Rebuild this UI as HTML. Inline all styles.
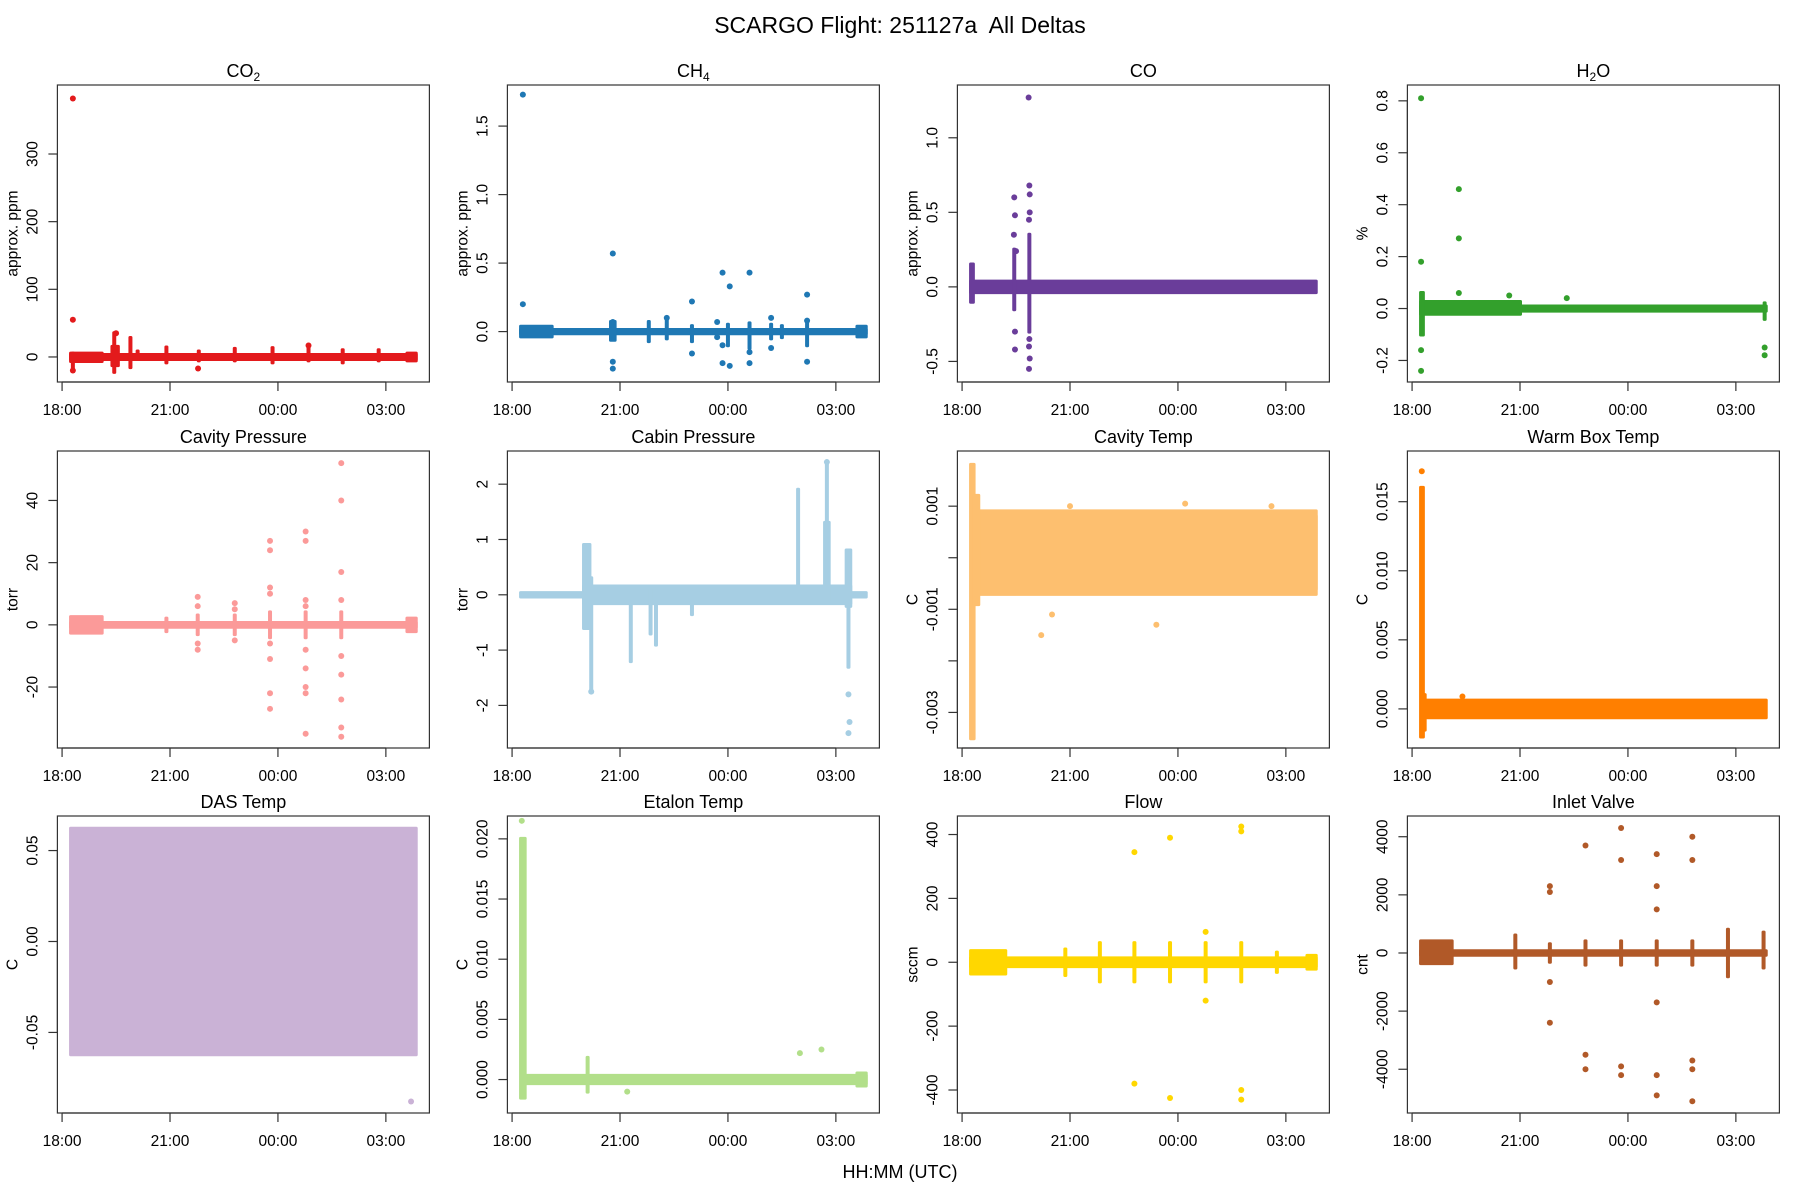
<!DOCTYPE html>
<html><head><meta charset="utf-8"><title>SCARGO Flight 251127a All Deltas</title>
<style>html,body{margin:0;padding:0;background:#fff}svg{display:block}text{font-family:"Liberation Sans",Arial,sans-serif;fill:#000}</style>
</head><body>
<svg id="chart" xmlns="http://www.w3.org/2000/svg" width="1800" height="1200" viewBox="0 0 1800 1200">
<rect width="1800" height="1200" fill="#fff"/>
<text x="900" y="33" font-size="23" text-anchor="middle">SCARGO Flight: 251127a&#160; All Deltas</text>
<text x="900" y="1178" font-size="18" text-anchor="middle">HH:MM (UTC)</text>
<g id="panels"></g>
</svg>
<script>
// time axis (hours; values >24 are after midnight)
const timeTicks = [18, 21, 24, 27];
const timeTickLabels = ["18:00", "21:00", "00:00", "03:00"];
const timeDomain = [17.87, 28.21];

// each band: [t0, t1, lo, hi]; each point: [t, value]
const co2Bands = [[18.25,27.83,-3,3],[18.25,19.1,-6,5],[18.3,18.3,-20,5],[19.4,19.55,-12,15],[19.45,19.45,-22,35],[19.9,19.9,-15,28],[20.1,20.1,-3,8],[20.9,20.9,-8,14],[21.8,21.8,-5,8],[22.8,22.8,-5,12],[23.85,23.85,-8,13],[24.85,24.85,-5,18],[25.8,25.8,-8,10],[26.8,26.8,-5,10],[27.6,27.83,-5,5]];
const co2Pts = [[18.3,382],[18.3,55],[18.3,-20],[21.78,-17],[24.85,17],[19.5,35]];

const ch4Bands = [[18.25,27.83,-0.012,0.012],[18.25,19.1,-0.035,0.035],[20.75,20.85,-0.06,0.07],[21.8,21.8,-0.07,0.07],[22.3,22.3,-0.05,0.1],[23.0,23.0,-0.07,0.04],[24.0,24.0,-0.1,0.05],[24.6,24.6,-0.12,0.06],[25.2,25.2,-0.05,0.05],[25.5,25.5,-0.04,0.04],[26.2,26.2,-0.1,0.08],[27.6,27.83,-0.035,0.035]];
const ch4Pts = [[18.3,1.73],[18.3,0.2],[20.8,0.57],[20.8,-0.22],[20.8,-0.27],[20.8,0.07],[22.3,0.1],[23.0,0.22],[23.0,-0.16],[23.85,0.43],[23.85,-0.1],[23.85,-0.23],[24.05,0.33],[24.05,-0.25],[24.6,0.43],[24.6,-0.15],[24.6,-0.23],[25.2,0.1],[25.2,-0.12],[26.2,0.27],[26.2,-0.22],[26.2,0.08],[23.7,0.07],[23.7,-0.04]];

const coBands = [[18.25,27.83,-0.035,0.035],[18.25,18.3,-0.1,0.15],[19.45,19.45,-0.15,0.25],[19.87,19.87,-0.3,0.35]];
const coPts = [[19.85,1.27],[19.45,0.6],[19.47,0.48],[19.5,0.24],[19.47,-0.3],[19.47,-0.42],[19.44,0.35],[19.87,0.68],[19.88,0.62],[19.88,0.5],[19.86,0.45],[19.86,-0.4],[19.86,-0.55],[19.88,-0.48],[19.87,-0.35]];

const h2oBands = [[18.25,27.83,-0.008,0.008],[18.25,21.0,-0.02,0.025],[18.25,18.3,-0.1,0.06],[27.8,27.8,-0.04,0.02]];
const h2oPts = [[18.25,0.81],[18.25,0.18],[18.25,-0.16],[18.25,-0.24],[19.3,0.46],[19.3,0.27],[19.3,0.06],[27.8,-0.15],[27.8,-0.18],[20.7,0.05],[22.3,0.04]];

const cavPBands = [[18.25,27.83,-0.6,0.6],[18.25,19.1,-2.5,2.5],[20.9,20.9,-2,2],[21.77,21.77,-3,3],[22.8,22.8,-3,3],[23.78,23.78,-4,4],[24.77,24.77,-4,4],[25.76,25.76,-4,4],[27.6,27.83,-2,2]];
const cavPPts = [[21.77,9],[21.77,6],[21.77,-6],[21.77,-8],[22.8,7],[22.8,5],[22.8,-5],[23.78,27],[23.78,24],[23.78,12],[23.78,10],[23.78,-6],[23.78,-11],[23.78,-22],[23.78,-27],[24.77,30],[24.77,27],[24.77,8],[24.77,6],[24.77,-8],[24.77,-14],[24.77,-20],[24.77,-22],[24.77,-35],[25.76,52],[25.76,40],[25.76,17],[25.76,8],[25.76,-10],[25.76,-16],[25.76,-24],[25.76,-33],[25.76,-36]];

const cabinBands = [[18.25,27.83,-0.03,0.03],[20.0,27.4,-0.15,0.15],[20.0,20.15,-0.6,0.9],[20.2,20.2,-1.75,0.3],[21.3,21.3,-1.2,0.1],[21.85,21.85,-0.7,0.1],[22.0,22.0,-0.9,0.1],[23.0,23.0,-0.35,0.1],[25.95,25.95,-0.1,1.9],[26.7,26.8,-0.1,1.3],[26.75,26.75,-0.1,2.4],[27.3,27.4,-0.2,0.8],[27.35,27.35,-1.3,0.1]];
const cabinPts = [[20.2,-1.75],[27.35,-1.8],[27.35,-2.5],[27.38,-2.3],[26.75,2.4]];

const cavTBands = [[18.4,27.83,-0.0006,0.0008],[18.4,27.83,-0.0007,0.0009],[18.25,18.32,-0.0035,0.0018],[18.35,18.45,-0.0009,0.0012]];
const cavTPts = [[20.5,-0.0011],[20.2,-0.0015],[23.4,-0.0013],[24.2,0.00105],[21.0,0.0010],[26.6,0.0010]];

const warmBands = [[18.3,27.83,-0.0006,0.0006],[18.25,18.3,-0.002,0.016],[18.3,18.35,-0.0015,0.001]];
const warmPts = [[18.27,0.0172],[19.4,0.0009]];

const dasBands = [[18.25,27.83,-0.062,0.062]];
const dasPts = [[27.7,-0.088]];

const etalonBands = [[18.3,27.83,-0.0003,0.0003],[18.25,18.35,-0.0015,0.02],[20.1,20.1,-0.001,0.0018],[27.6,27.83,-0.0005,0.0005]];
const etalonPts = [[18.27,0.0215],[26.0,0.0022],[26.6,0.0025],[21.2,-0.001]];

const flowBands = [[18.25,27.83,-12,12],[18.25,19.2,-35,35],[20.87,20.87,-40,40],[21.83,21.83,-60,60],[22.79,22.79,-60,60],[23.78,23.78,-60,60],[24.77,24.77,-60,60],[25.76,25.76,-60,60],[26.75,26.75,-30,30],[27.6,27.83,-20,20]];
const flowPts = [[22.79,345],[22.79,-380],[23.78,390],[23.78,-425],[24.77,95],[24.77,-120],[25.76,425],[25.76,410],[25.76,-400],[25.76,-430]];

const inletBands = [[18.25,27.83,-60,60],[18.25,19.1,-350,400],[20.87,20.87,-500,600],[21.83,21.83,-300,300],[22.82,22.82,-400,400],[23.81,23.81,-400,400],[24.8,24.8,-400,400],[25.79,25.79,-400,400],[26.78,26.78,-800,800],[27.77,27.77,-500,700]];
const inletPts = [[21.83,2300],[21.83,2100],[21.83,-1000],[21.83,-2400],[22.82,3700],[22.82,-3500],[22.82,-4000],[23.81,4300],[23.81,3200],[23.81,-3900],[23.81,-4200],[24.8,3400],[24.8,2300],[24.8,1500],[24.8,-1700],[24.8,-4200],[24.8,-4900],[25.79,4000],[25.79,3200],[25.79,-3700],[25.79,-4000],[25.79,-5100]];

// panel axes
const panelTitles = ["CO2","CH4","CO","H2O","Cavity Pressure","Cabin Pressure","Cavity Temp","Warm Box Temp","DAS Temp","Etalon Temp","Flow","Inlet Valve"];
const panelUnits = ["approx. ppm","approx. ppm","approx. ppm","%","torr","torr","C","C","C","C","sccm","cnt"];
const panelYLims = [[-37,402],[-0.368,1.8],[-0.638,1.354],[-0.283,0.861],[-39.6,55.9],[-2.77,2.6],[-0.00369,0.00207],[-0.00283,0.01867],[-0.0943,0.069],[-0.00278,0.0219],[-472,458],[-5505,4713]];
const panelYTicks = [[0,100,200,300],[0,0.5,1,1.5],[-0.5,0,0.5,1],[-0.2,0,0.2,0.4,0.6,0.8],[-20,0,20,40],[-2,-1,0,1,2],[-0.003,-0.002,-0.001,0,0.001],[0,0.005,0.01,0.015],[-0.05,0,0.05],[0,0.005,0.01,0.015,0.02],[-400,-200,0,200,400],[-4000,-2000,0,2000,4000]];
const panelYTickLabels = [["0","100","200","300"],["0.0","0.5","1.0","1.5"],["-0.5","0.0","0.5","1.0"],["-0.2","0.0","0.2","0.4","0.6","0.8"],["-20","0","20","40"],["-2","-1","0","1","2"],["-0.003","","-0.001","","0.001"],["0.000","0.005","0.010","0.015"],["-0.05","0.00","0.05"],["0.000","0.005","0.010","0.015","0.020"],["-400","-200","0","200","400"],["-4000","-2000","0","2000","4000"]];
const panelColors = ["#e31a1c","#1f78b4","#6a3d9a","#33a02c","#fb9a99","#a6cee3","#fdbf6f","#ff7f00","#cab2d6","#b2df8a","#ffd700","#b15928"];
const panelBands = [co2Bands,ch4Bands,coBands,h2oBands,cavPBands,cabinBands,cavTBands,warmBands,dasBands,etalonBands,flowBands,inletBands];
const panelPts = [co2Pts,ch4Pts,coPts,h2oPts,cavPPts,cabinPts,cavTPts,warmPts,dasPts,etalonPts,flowPts,inletPts];

const NS = "http://www.w3.org/2000/svg";
const root = document.getElementById("panels");
const colX = [57.4, 507.4, 957.4, 1407.4];
const rowY = [85, 451, 816];
const PW = 372, PH = 297, R = 3, PAD = 2;
function mk(tag, attrs, parent) {
  const e = document.createElementNS(NS, tag);
  for (const k in attrs) e.setAttribute(k, attrs[k]);
  parent.appendChild(e);
  return e;
}
const subs = {"CO2": ["CO","2"], "CH4": ["CH","4"], "H2O": ["H","2","O"]};

panelTitles.forEach((title, i) => {
  const x0 = colX[i % 4], y0 = rowY[Math.floor(i / 4)];
  const ylim = panelYLims[i];
  const sx = t => x0 + (t - timeDomain[0]) / (timeDomain[1] - timeDomain[0]) * PW;
  const sy = v => y0 + PH - (v - ylim[0]) / (ylim[1] - ylim[0]) * PH;
  const slug = title.toLowerCase().replace(/ /g, "-");
  const g = mk("g", {}, root);
  
  

  const tt = mk("text", {x: x0 + PW / 2, y: y0 - 8, "font-size": 18, "text-anchor": "middle"}, g);
  
  
  if (subs[title]) {
    const p = subs[title];
    tt.appendChild(document.createTextNode(p[0]));
    const s = mk("tspan", {"font-size": 12, dy: 4}, tt); s.textContent = p[1];
    if (p[2]) { const s2 = mk("tspan", {dy: -4}, tt); s2.textContent = p[2]; }
  } else tt.textContent = title;

  const dg = mk("g", {fill: panelColors[i]}, g);
  
  
  panelBands[i].forEach(b => {
    const xa = sx(b[0]) - PAD, xb = sx(b[1]) + PAD;
    const ya = sy(b[3]) - PAD, yb = sy(b[2]) + PAD;
    const r = mk("rect", {x: xa, y: ya, width: xb - xa, height: yb - ya, rx: 1.5}, dg);
    
    
  });
  panelPts[i].forEach(p => {
    const c = mk("circle", {cx: sx(p[0]), cy: sy(p[1]), r: R}, dg);
    
    
  });

  const bx = mk("rect", {x: x0, y: y0, width: PW, height: PH, fill: "none", stroke: "#333", "stroke-width": 1.2}, g);
  
  

  const xa = mk("g", {}, g);
  
  
  mk("line", {x1: sx(timeTicks[0]), x2: sx(timeTicks[timeTicks.length - 1]), y1: y0 + PH, y2: y0 + PH, stroke: "#333", "stroke-width": 1.2}, xa);
  timeTicks.forEach((t, k) => {
    mk("line", {x1: sx(t), x2: sx(t), y1: y0 + PH, y2: y0 + PH + 9, stroke: "#333", "stroke-width": 1.2}, xa);
    const lb = mk("text", {x: sx(t), y: y0 + PH + 33, "font-size": 15.5, "text-anchor": "middle"}, xa);
    
    
    lb.textContent = timeTickLabels[k];
  });

  const ya = mk("g", {}, g);
  
  
  const yt = panelYTicks[i];
  mk("line", {x1: x0, x2: x0, y1: sy(yt[0]), y2: sy(yt[yt.length - 1]), stroke: "#333", "stroke-width": 1.2}, ya);
  yt.forEach((v, k) => {
    const y = sy(v);
    mk("line", {x1: x0, x2: x0 - 9, y1: y, y2: y, stroke: "#333", "stroke-width": 1.2}, ya);
    const lab = panelYTickLabels[i][k];
    if (lab) {
      const lb = mk("text", {x: x0 - 20, y: y, "font-size": 15.5, "text-anchor": "middle", transform: `rotate(-90 ${x0 - 20} ${y})`}, ya);
      
      
      lb.textContent = lab;
    }
  });
  const ytl = mk("text", {x: x0 - 40, y: y0 + PH / 2, "font-size": 15.5, "text-anchor": "middle", transform: `rotate(-90 ${x0 - 40} ${y0 + PH / 2})`}, ya);
  
  
  ytl.textContent = panelUnits[i];
});
</script>
</body></html>
